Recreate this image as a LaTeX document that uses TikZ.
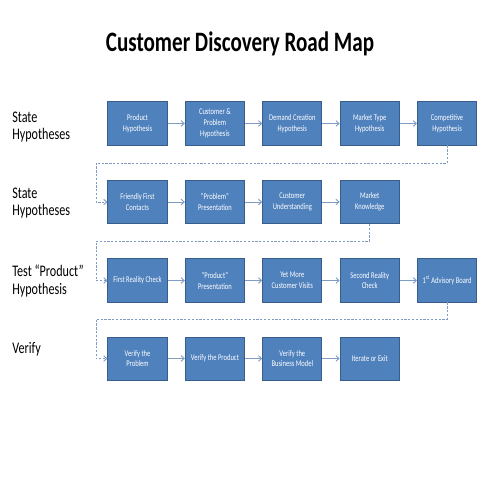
\documentclass[tikz,border=0pt]{standalone}
\usepackage{fontspec}
\setmainfont{Carlito}[FakeStretch=0.75]
\usepackage{tikz}
\usetikzlibrary{arrows.meta,positioning}
\definecolor{boxBlue} {HTML}{4F81BD}
\definecolor{boxEdge} {HTML}{385D8A}
\definecolor{linkBlue}{HTML}{7F9CC4}
\tikzset{
  stepbox/.style={draw=boxEdge, fill=boxBlue, text=white, line width=0.7pt,
    minimum width=1.48cm, minimum height=1.075cm, inner sep=1pt, align=center,
    font=\fontsize{6.2}{7.8}\selectfont},
  rowlabel/.style={anchor=west, align=left, inner sep=0pt,
    font=\fontsize{11.5}{12.5}\selectfont},
  flow/.style={linkBlue, line width=0.65pt, -{Straight Barb[length=2.2pt,width=4pt]}},
  backlink/.style={flow, dash pattern=on 1.6pt off 1.1pt},
  node distance=0.43cm
}
\begin{document}
\begin{tikzpicture}[x=0.025cm,y=0.025cm]
  \useasboundingbox (0,0) rectangle (480,480);
  \node[font=\fontsize{20}{24}\selectfont\bfseries] (title) at (240,436) {Customer Discovery Road Map};
  % row labels
  \node[rowlabel] (labA) at (12,353) {State\\Hypotheses};
  \node[rowlabel] (labB) at (12,277) {State\\Hypotheses};
  \node[rowlabel] (labC) at (12,199) {Test “Product”\\Hypothesis};
  \node[rowlabel] (labD) at (12,131) {Verify};
  % row 1
  \node[stepbox] (a1) at (137.5,356.5) {Product\\Hypothesis};
  \node[stepbox, right=of a1] (a2) {Customer \&\\Problem\\Hypothesis};
  \node[stepbox, right=of a2] (a3) {Demand Creation\\Hypothesis};
  \node[stepbox, right=of a3] (a4) {Market Type\\Hypothesis};
  \node[stepbox, right=of a4] (a5) {Competitive\\Hypothesis};
  % row 2
  \node[stepbox] (b1) at (137.5,278) {Friendly First\\Contacts};
  \node[stepbox, right=of b1] (b2) {"Problem"\\Presentation};
  \node[stepbox, right=of b2] (b3) {Customer\\Understanding};
  \node[stepbox, right=of b3] (b4) {Market\\Knowledge};
  % row 3
  \node[stepbox] (c1) at (137.5,199.5) {First Reality Check};
  \node[stepbox, right=of c1] (c2) {"Product"\\Presentation};
  \node[stepbox, right=of c2] (c3) {Yet More\\Customer Visits};
  \node[stepbox, right=of c3] (c4) {Second Reality\\Check};
  \node[stepbox, right=of c4] (c5) {1\textsuperscript{st} Advisory Board};
  % row 4
  \node[stepbox] (d1) at (137.5,121.5) {Verify the\\Problem};
  \node[stepbox, right=of d1] (d2) {Verify the Product};
  \node[stepbox, right=of d2] (d3) {Verify the\\Business Model};
  \node[stepbox, right=of d3] (d4) {Iterate or Exit};
  % arrows within rows
  \foreach \u/\v in {a1/a2,a2/a3,a3/a4,a4/a5,b1/b2,b2/b3,b3/b4,
                     c1/c2,c2/c3,c3/c4,c4/c5,d1/d2,d2/d3,d3/d4}
    \draw[flow] (\u) -- (\v);
  % dashed returns
  \coordinate (turnA) at (96,317);
  \coordinate (turnB) at (96,239);
  \coordinate (turnC) at (96,161);
  \draw[backlink] (a5.south) |- (turnA) |- (b1.west);
  \draw[backlink] (b4.south) |- (turnB) |- (c1.west);
  \draw[backlink] (c5.south) |- (turnC) |- (d1.west);
\end{tikzpicture}
\end{document}
